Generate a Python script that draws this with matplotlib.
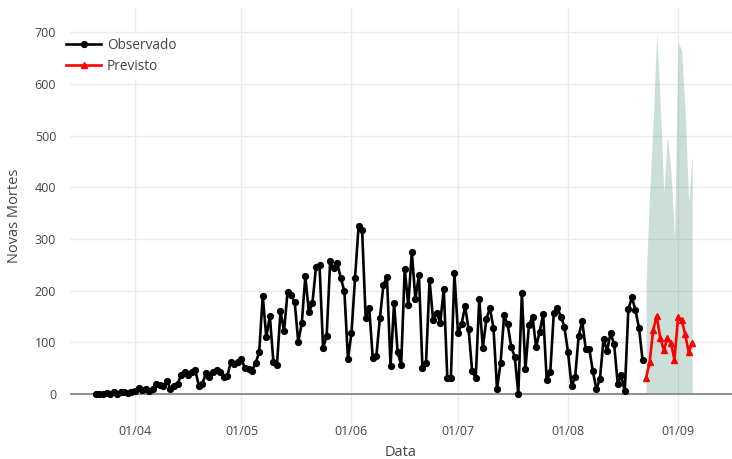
import matplotlib
matplotlib.use("Agg")
import matplotlib.pyplot as plt
import matplotlib.dates as mdates
import numpy as np
import pandas as pd
from matplotlib.lines import Line2D

# ---------------- data ----------------
obs_start = "2020-03-21"
observado = [1, 0, 1, 2, 0, 3, 1, 3, 4, 2, 4,
             6, 12, 8, 9, 5, 9, 19, 18, 16, 26,
             10, 16, 20, 36, 42, 36, 42, 46, 16, 20,
             40, 33, 43, 46, 42, 32, 34, 62, 58, 62,
             68, 50, 48, 45, 60, 81, 190, 110, 151, 62,
             56, 160, 122, 198, 191, 178, 101, 137, 228, 158,
             176, 246, 249, 89, 112, 257, 244, 253, 224, 199,
             68, 118, 224, 325, 317, 147, 166, 69, 73, 147,
             211, 226, 54, 176, 81, 56, 242, 172, 275, 184,
             230, 50, 60, 220, 143, 157, 138, 203, 31, 31,
             234, 118, 135, 170, 125, 44, 31, 184, 89, 145,
             166, 128, 10, 60, 152, 135, 91, 72, 0, 195,
             48, 133, 150, 91, 120, 155, 27, 42, 157, 166,
             150, 129, 81, 16, 32, 112, 141, 87, 87, 44,
             10, 29, 106, 84, 118, 96, 20, 36, 5, 164,
             187, 162, 128, 66]

prev_start = "2020-08-23"
previsto = [31, 62, 124, 151, 108, 85, 108, 99, 66, 149, 143, 116, 81, 99]
prev_lower = [0, 0, 0, 0, 0, 0, 0, 0, 0, 0, 0, 0, 0, 0]
prev_upper = [220, 390, 530, 700, 560, 388, 500, 433, 304, 681, 665, 549, 371, 462]

y_ticks = [0, 100, 200, 300, 400, 500, 600, 700]
x_tick_dates = ["2020-04-01", "2020-05-01", "2020-06-01", "2020-07-01", "2020-08-01", "2020-09-01"]
x_tick_labels = ["01/04", "01/05", "01/06", "01/07", "01/08", "01/09"]

obs_dates = pd.date_range(obs_start, periods=len(observado), freq="D")
prev_dates = pd.date_range(prev_start, periods=len(previsto), freq="D")

# ---------------- figure ----------------
plt.rcParams['font.family'] = ['Open Sans', 'DejaVu Sans']
W, H = 732, 459
fig = plt.figure(figsize=(W / 100, H / 100), dpi=100)
ax = fig.add_axes([70 / W, (H - 424) / H, (W - 70) / W, (424 - 8) / H])

grid_c = "#ebebeb"
ax.set_facecolor("white")
for s in ax.spines.values():
    s.set_visible(False)

ax.fill_between(prev_dates, prev_lower, prev_upper, color=(0.2, 0.5, 0.4), alpha=0.25,
                linewidth=0, zorder=2)

ax.plot(obs_dates, observado, color="black", lw=1.9, marker="o", ms=4.2, zorder=4)
ax.plot(prev_dates, previsto, color="#ff0000", lw=1.9, marker="^", ms=5, zorder=4)

ax.axhline(0, color="#8f8f8f", lw=1.4, zorder=3)

ax.set_yticks(y_ticks)
ax.set_yticklabels([str(v) for v in y_ticks])
ax.set_xticks(pd.to_datetime(x_tick_dates))
ax.set_xticklabels(x_tick_labels)
ax.grid(True, color=grid_c, lw=1, zorder=0)
ax.set_axisbelow(True)
ax.tick_params(axis="x", length=0, colors="#444444", labelsize=9, pad=1)
ax.tick_params(axis="y", length=0, colors="#444444", labelsize=9, pad=10)

x0 = pd.Timestamp("2020-04-01")
ax.set_xlim(x0 - pd.Timedelta(days=18.3), x0 + pd.Timedelta(days=168.2))
ax.set_ylim(-58, 747)

ax.set_xlabel("Data", fontsize=10.5, color="#444444", labelpad=5)
ax.set_ylabel("Novas Mortes", fontsize=10.5, color="#444444", labelpad=9)

handles = [Line2D([], [], color="black", lw=1.9, marker="o", ms=4.2),
           Line2D([], [], color="#ff0000", lw=1.9, marker="^", ms=5)]
leg = ax.legend(handles, ["Observado", "Previsto"], loc="upper left",
                bbox_to_anchor=(62 / W, (H - 34) / H), bbox_transform=fig.transFigure,
                frameon=True, fancybox=False, framealpha=1, edgecolor="white",
                fontsize=9.8, handlelength=2.6, handletextpad=0.4, labelspacing=0.45,
                borderpad=0.3, borderaxespad=0)
for t in leg.get_texts():
    t.set_color("#444444")

fig.savefig("out.png", dpi=100)
